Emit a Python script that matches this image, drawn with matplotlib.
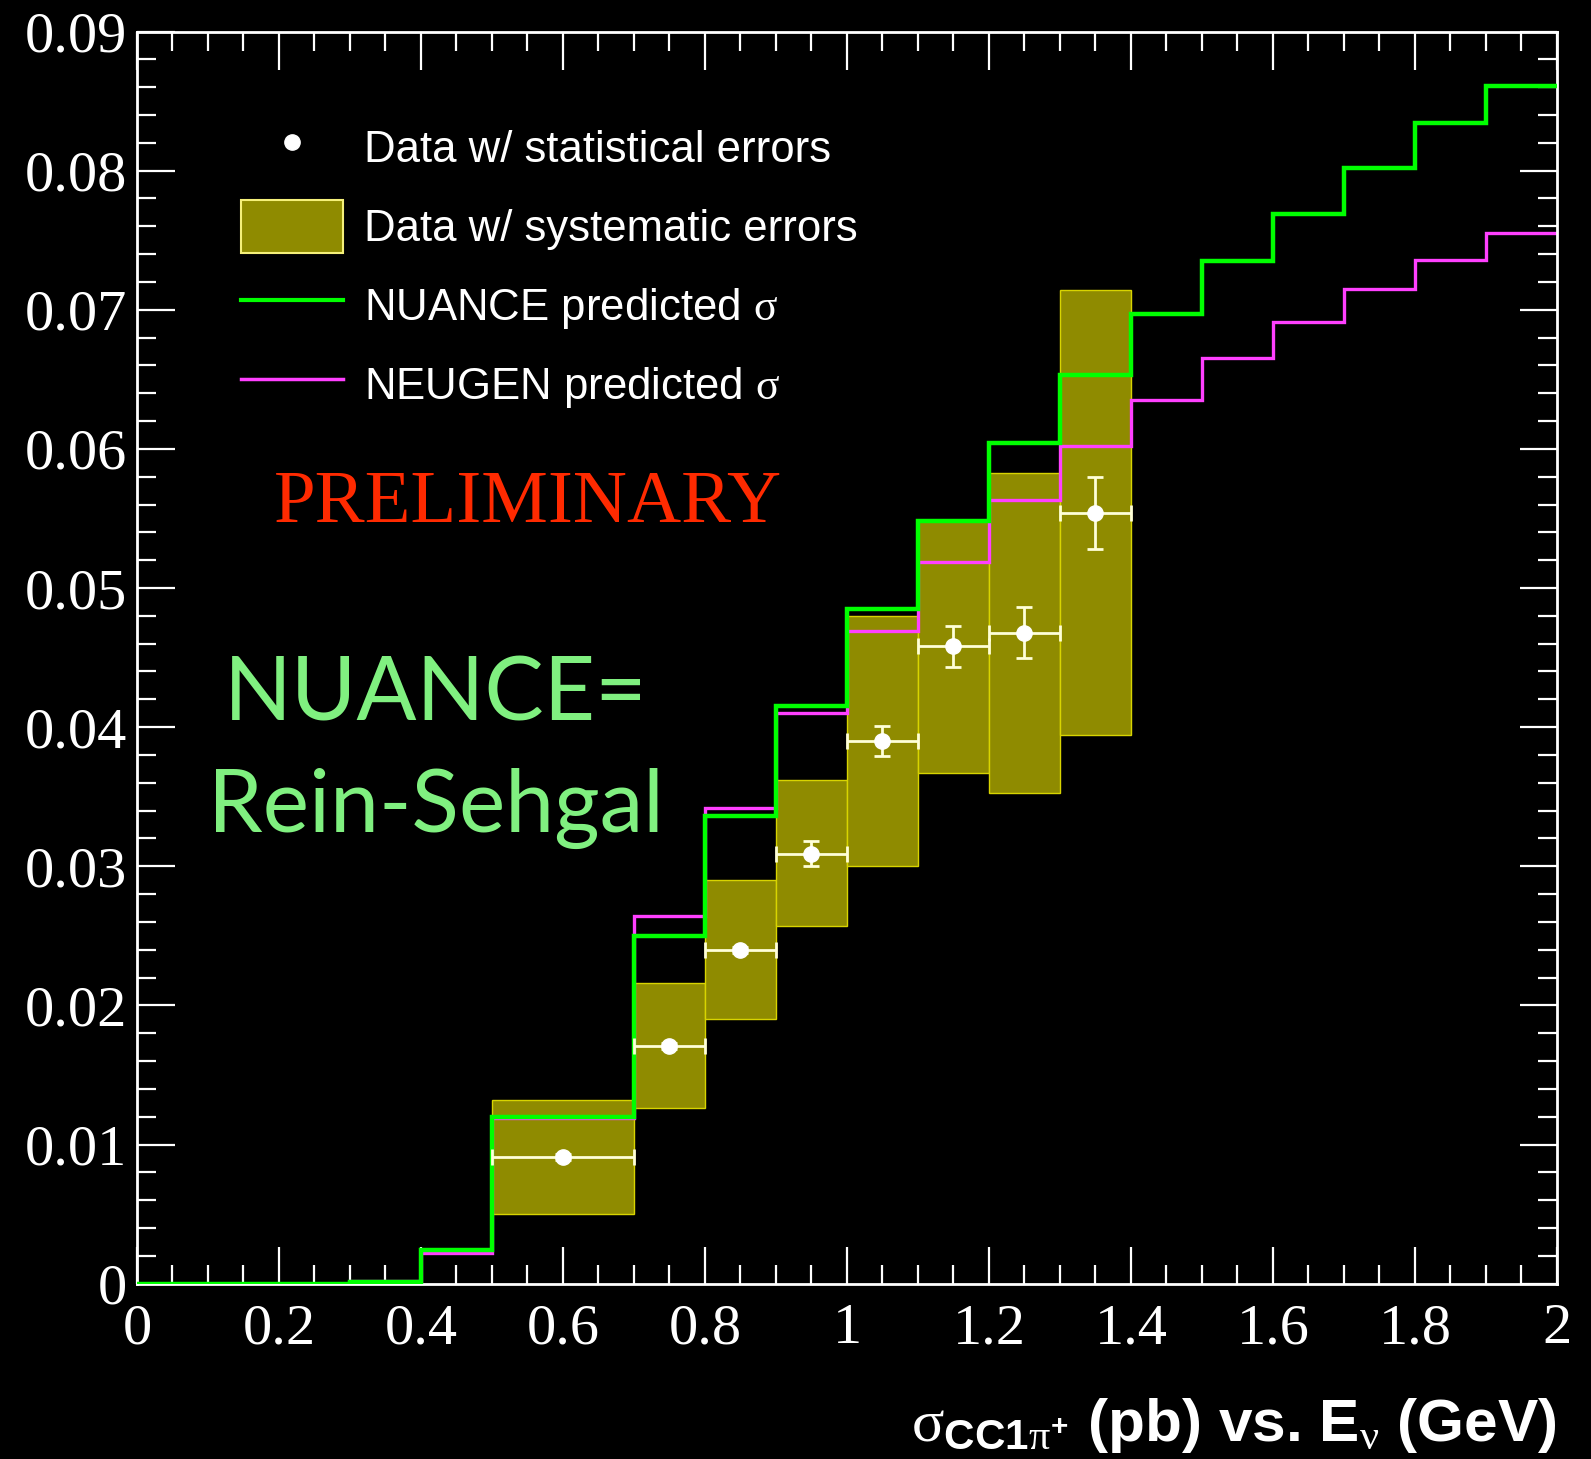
import numpy as np
import matplotlib.pyplot as plt
from matplotlib.lines import Line2D
from matplotlib.patches import Patch

plt.rcParams['font.family'] = 'Liberation Serif'
plt.rcParams['mathtext.fontset'] = 'custom'
plt.rcParams['mathtext.rm'] = 'Liberation Serif'
plt.rcParams['mathtext.it'] = 'Liberation Serif'
plt.rcParams['mathtext.bf'] = 'Liberation Sans:bold'

# ---- measured cross section (bins in GeV) ----
bin_lo = [0.5, 0.7, 0.8, 0.9, 1.0, 1.1, 1.2, 1.3]
bin_hi = [0.7, 0.8, 0.9, 1.0, 1.1, 1.2, 1.3, 1.4]
xsec = [0.0091, 0.0171, 0.0240, 0.0309, 0.0390, 0.0458, 0.0468, 0.0554]
stat_err = [0.0002, 0.0002, 0.0002, 0.0009, 0.0011, 0.0015, 0.0018, 0.0026]
syst_lo = [0.0050, 0.0126, 0.0190, 0.0257, 0.0300, 0.0367, 0.0353, 0.0394]
syst_hi = [0.0132, 0.0216, 0.0290, 0.0362, 0.0480, 0.0548, 0.0583, 0.0714]

# ---- generator predictions, 0.1 GeV bins from 0 to 2 ----
mc_edges = np.linspace(0, 2, 21)
nuance = [0.0, 0.0, 0.0, 0.0001, 0.0024, 0.0120, 0.0120, 0.0250, 0.0336, 0.0415,
          0.0485, 0.0548, 0.0604, 0.0653, 0.0697, 0.0735, 0.0769, 0.0802, 0.0834, 0.0861]
neugen = [0.0, 0.0, 0.0, 0.0002, 0.0022, 0.0119, 0.0119, 0.0264, 0.0342, 0.0410,
          0.0469, 0.0519, 0.0563, 0.0602, 0.0635, 0.0665, 0.0691, 0.0715, 0.0736, 0.0755]

xtick_vals = [0, 0.2, 0.4, 0.6, 0.8, 1.0, 1.2, 1.4, 1.6, 1.8, 2.0]
xtick_labels = ['0', '0.2', '0.4', '0.6', '0.8', '1', '1.2', '1.4', '1.6', '1.8', '2']
ytick_vals = [0, 0.01, 0.02, 0.03, 0.04, 0.05, 0.06, 0.07, 0.08, 0.09]
ytick_labels = ['0', '0.01', '0.02', '0.03', '0.04', '0.05', '0.06', '0.07', '0.08', '0.09']

olive = '#8f8b00'
box_edge = '#d8d400'
green = '#00ff00'
magenta = '#ff40ff'
pale = '#ffffd8'

lo = np.array(bin_lo)
hi = np.array(bin_hi)
centers = (lo + hi) / 2
half_w = (hi - lo) / 2

fig = plt.figure(figsize=(15.91, 14.59), dpi=100, facecolor='black')
ax = fig.add_axes([0.0861, 0.1202, 0.8925, 0.8582])
ax.set_facecolor('black')

# systematic error boxes
ax.bar(centers, np.array(syst_hi) - np.array(syst_lo), bottom=syst_lo, width=hi - lo,
       color=olive, edgecolor=box_edge, linewidth=1, zorder=1)

# predictions (no closing edges at the ends)
ax.stairs(neugen, mc_edges, baseline=None, color=magenta, linewidth=2.4, zorder=2)
ax.stairs(nuance, mc_edges, baseline=None, color=green, linewidth=3.2, zorder=3)

# data with statistical errors
ax.errorbar(centers, xsec, xerr=half_w, yerr=stat_err, fmt='o', color='white',
            ms=11, ecolor=pale, elinewidth=2, capsize=6, capthick=2, zorder=4)

ax.set_xlim(0, 2)
ax.set_ylim(0, 0.09)
ax.set_xticks(xtick_vals, xtick_labels)
ax.set_yticks(ytick_vals, ytick_labels)
ax.set_xticks(np.arange(0, 2.001, 0.05), minor=True)
ax.set_yticks(np.arange(0, 0.0901, 0.002), minor=True)
ax.tick_params(which='both', direction='in', top=True, right=True,
               colors='white', width=1.6)
ax.tick_params(which='major', length=27, labelsize=42)
ax.tick_params(which='minor', length=14)
ax.tick_params(axis='x', pad=14)
ax.tick_params(axis='y', pad=7)
for s in ax.spines.values():
    s.set_color('white')
    s.set_linewidth(2)

handles = [
    Line2D([], [], marker='o', ls='none', color='white', ms=11),
    Patch(facecolor=olive, edgecolor='#f5f07a', linewidth=1.5),
    Line2D([], [], color=green, linewidth=3),
    Line2D([], [], color=magenta, linewidth=2.5),
]
labels = ['Data w/ statistical errors', 'Data w/ systematic errors',
          r'NUANCE predicted $\sigma$', r'NEUGEN predicted $\sigma$']
leg = ax.legend(handles, labels, loc='upper left', bbox_to_anchor=(0.0736, 0.9282),
                frameon=False, borderpad=0, borderaxespad=0, numpoints=1,
                handlelength=2.33, handleheight=1.49, handletextpad=0.46,
                labelspacing=0.59, prop={'family': 'Liberation Sans', 'size': 31.5})
for t in leg.get_texts():
    t.set_color('white')

ax.text(0.2754, 0.608, 'PRELIMINARY', transform=ax.transAxes, ha='center',
        va='baseline', color='#ff2a00', fontsize=54, family='Liberation Serif')
ax.text(0.2106, 0.450, 'NUANCE=', transform=ax.transAxes, ha='center',
        va='baseline', color='#80f080', fontsize=64, family='Lato')
ax.text(0.2106, 0.3606, 'Rein-Sehgal', transform=ax.transAxes, ha='center',
        va='baseline', color='#80f080', fontsize=63, family='Lato')

fig.text(0.9786, 0.0123,
         r'$\sigma_{\mathbf{CC1}\pi^{\mathbf{+}}}$ (pb) vs. E$_{\nu}$ (GeV)',
         ha='right', va='baseline', color='white', fontsize=43.5,
         fontweight='bold', family='Liberation Sans')

fig.savefig('out.png', dpi=100, facecolor='black')
